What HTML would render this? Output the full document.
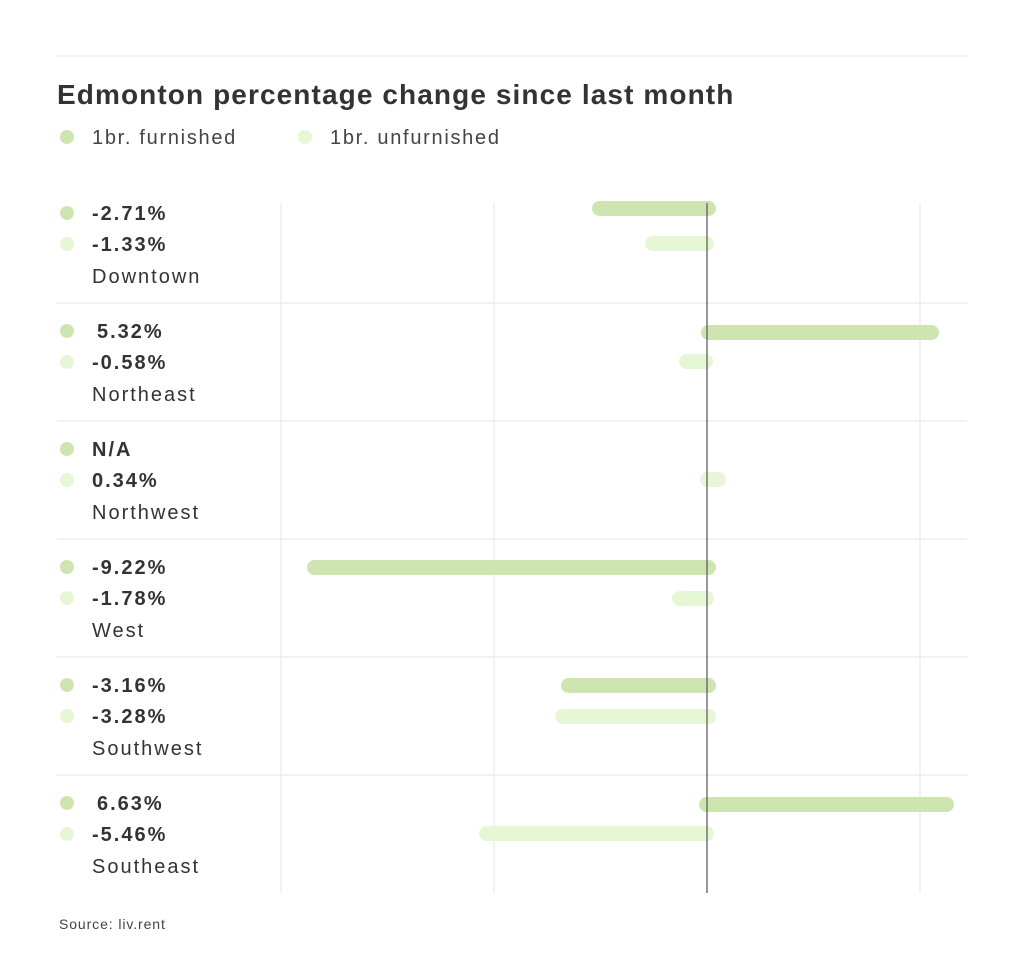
<!DOCTYPE html>
<html><head><style>
body{margin:0;background:#fff;width:1024px;height:956px;overflow:hidden;font-family:"Liberation Sans",sans-serif;color:#333}
</style></head><body>
<svg width="1024" height="956" xmlns="http://www.w3.org/2000/svg" style="position:absolute;left:0;top:0">
<line x1="57" y1="56" x2="967" y2="56" stroke="#eee" stroke-width="1.5"/>
<text x="57" y="104" font-size="28" font-weight="bold" fill="#333" letter-spacing="1.1" font-family="Liberation Sans, sans-serif">Edmonton percentage change since last month</text>
<circle cx="67" cy="137" r="7" fill="#cfe5b1"/>
<text x="92" y="144" font-size="20" fill="#444" letter-spacing="1.7" font-family="Liberation Sans, sans-serif">1br. furnished</text>
<circle cx="305" cy="137" r="7" fill="#e6f7d6"/>
<text x="330" y="144" font-size="20" fill="#444" letter-spacing="1.7" font-family="Liberation Sans, sans-serif">1br. unfurnished</text>
<g stroke="#eee" stroke-width="1.5">
<line x1="281" y1="203" x2="281" y2="893"/><line x1="494" y1="203" x2="494" y2="893"/><line x1="920" y1="203" x2="920" y2="893"/>
<line x1="57" y1="303" x2="967" y2="303"/><line x1="57" y1="421" x2="967" y2="421"/><line x1="57" y1="539" x2="967" y2="539"/><line x1="57" y1="657" x2="967" y2="657"/><line x1="57" y1="775" x2="967" y2="775"/>
</g>
<g>
<rect x="592" y="201" width="124" height="15" rx="7.5" fill="#cfe5b1"/>
<rect x="645" y="236" width="69" height="15" rx="7.5" fill="#e6f7d6"/>
<rect x="701" y="325" width="238" height="15" rx="7.5" fill="#cfe5b1"/>
<rect x="679" y="354" width="34" height="15" rx="7.5" fill="#e6f7d6"/>
<rect x="700" y="472" width="26" height="15" rx="7.5" fill="#e6f7d6"/>
<rect x="307" y="560" width="409" height="15" rx="7.5" fill="#cfe5b1"/>
<rect x="672" y="591" width="42" height="15" rx="7.5" fill="#e6f7d6"/>
<rect x="561" y="678" width="155" height="15" rx="7.5" fill="#cfe5b1"/>
<rect x="555" y="709" width="161" height="15" rx="7.5" fill="#e6f7d6"/>
<rect x="699" y="797" width="255" height="15" rx="7.5" fill="#cfe5b1"/>
<rect x="479" y="826" width="235" height="15" rx="7.5" fill="#e6f7d6"/>
</g>
<line x1="707" y1="203" x2="707" y2="893" stroke="#555" stroke-width="1.2"/>
<g font-family="Liberation Sans, sans-serif" font-size="20" fill="#333" letter-spacing="2">
<g font-weight="bold">
<text x="92" y="220">-2.71%</text><text x="92" y="251">-1.33%</text>
<text x="97" y="338">5.32%</text><text x="92" y="369">-0.58%</text>
<text x="92" y="456">N/A</text><text x="92" y="487">0.34%</text>
<text x="92" y="574">-9.22%</text><text x="92" y="605">-1.78%</text>
<text x="92" y="692">-3.16%</text><text x="92" y="723">-3.28%</text>
<text x="97" y="810">6.63%</text><text x="92" y="841">-5.46%</text>
</g>
<text x="92" y="283">Downtown</text><text x="92" y="401">Northeast</text><text x="92" y="519">Northwest</text>
<text x="92" y="637">West</text><text x="92" y="755">Southwest</text><text x="92" y="873">Southeast</text>
</g>
<g>
<circle cx="67" cy="213" r="7" fill="#cfe5b1"/><circle cx="67" cy="244" r="7" fill="#e6f7d6"/>
<circle cx="67" cy="331" r="7" fill="#cfe5b1"/><circle cx="67" cy="362" r="7" fill="#e6f7d6"/>
<circle cx="67" cy="449" r="7" fill="#cfe5b1"/><circle cx="67" cy="480" r="7" fill="#e6f7d6"/>
<circle cx="67" cy="567" r="7" fill="#cfe5b1"/><circle cx="67" cy="598" r="7" fill="#e6f7d6"/>
<circle cx="67" cy="685" r="7" fill="#cfe5b1"/><circle cx="67" cy="716" r="7" fill="#e6f7d6"/>
<circle cx="67" cy="803" r="7" fill="#cfe5b1"/><circle cx="67" cy="834" r="7" fill="#e6f7d6"/>
</g>
<text x="59" y="929" font-size="14" fill="#444" letter-spacing="0.9" font-family="Liberation Sans, sans-serif">Source: liv.rent</text>
</svg>
</body></html>
